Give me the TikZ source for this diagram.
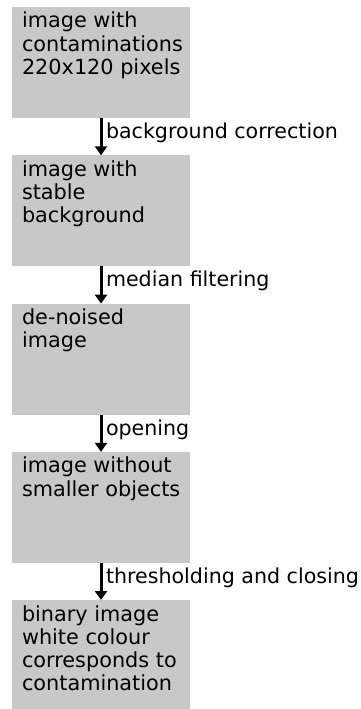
\documentclass[tikz,border=0pt]{standalone}
\usepackage{fontspec}
\setmainfont{DejaVu Sans}
\usetikzlibrary{arrows.meta}
\definecolor{boxgray}{RGB}{200,200,200}
\newcommand{\boxcontent}[2]{\begin{minipage}[t][#1][t]{178bp}\fontsize{20.8bp}{23.3bp}\selectfont\leftskip=10bp\rule{0pt}{21bp}#2\end{minipage}}
\tikzset{
  stagebox/.style={fill=boxgray, inner sep=0pt, anchor=north west, outer sep=0pt},
  flowarrow/.style={line width=3bp, -{Triangle[length=9bp,width=12bp]}, shorten >=0pt},
  steplabel/.style={anchor=base west, inner sep=0pt, font=\fontsize{20.6bp}{24bp}\selectfont, xshift=3.5bp, yshift=-2bp}
}
\begin{document}
\begin{tikzpicture}[x=1bp,y=1bp]
\useasboundingbox (0,0) rectangle (360,-709);
\node[stagebox] (b1) at (12,-7) {\boxcontent{111bp}{image with\\contaminations\\220x120 pixels}};
\node[stagebox] (b2) at (12,-155.3) {\boxcontent{111bp}{image with\\stable\\background}};
\node[stagebox] (b3) at (12,-303.6) {\boxcontent{111bp}{de-noised\\image}};
\node[stagebox] (b4) at (12,-451.8) {\boxcontent{111bp}{image without\\smaller objects}};
\node[stagebox] (b5) at (12,-600) {\boxcontent{109bp}{binary image\\white colour\\corresponds to\\contamination}};
\draw[flowarrow] (b1.south) -- node[steplabel] (l1) {background correction} (b2.north);
\draw[flowarrow] (b2.south) -- node[steplabel] (l2) {median filtering} (b3.north);
\draw[flowarrow] (b3.south) -- node[steplabel] (l3) {opening} (b4.north);
\draw[flowarrow] (b4.south) -- node[steplabel] (l4) {thresholding and closing} (b5.north);
\end{tikzpicture}
\end{document}
